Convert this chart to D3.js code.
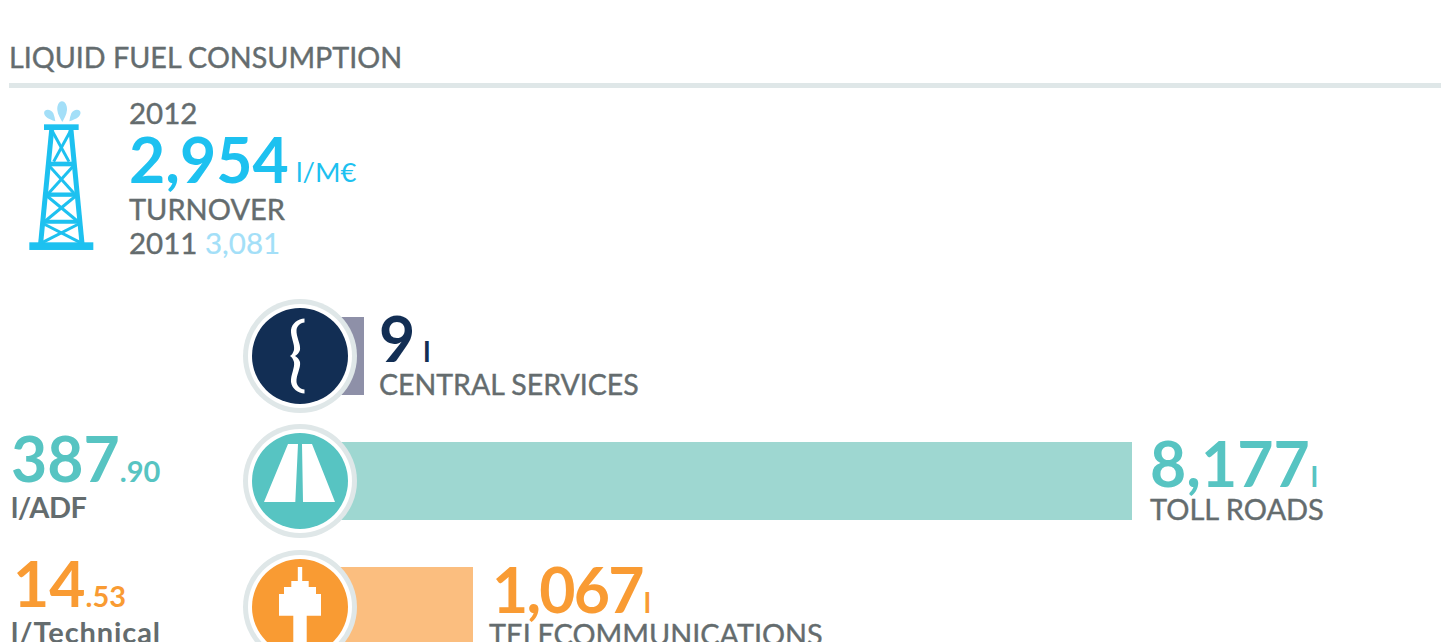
<!DOCTYPE html>
<html><head><meta charset="utf-8">
<script src="https://cdnjs.cloudflare.com/ajax/libs/d3/7.8.5/d3.min.js"></script>
<style>html,body{margin:0;padding:0;background:#fff;overflow:hidden}svg{display:block}text{font-family:Lato,sans-serif}</style>
</head><body><svg id="c" width="1441" height="642"></svg>
<script>
const title = "LIQUID FUEL CONSUMPTION";
const headline = {year:"2012", value:"2,954", unit:"l/M€", label:"TURNOVER", prevYear:"2011", prevValue:"3,081"};
const categories = ["CENTRAL SERVICES","TOLL ROADS","TELECOMMUNICATIONS"];
const litres = [9,8177,1067];
const units = ["l","l","l"];
const ratioWhole = [null,"387","14"];
const ratioDecimal = [null,".90",".53"];
const ratioUnit = [null,"l/ADF","l/Technical"];
const markColors = ["#122e54","#57c4c2","#f99b33"];
const barColors = ["#8e90a8","#9ed7d1","#fbbe7f"];
const GREY="#646c6e", RING="#dfe7e8", CYAN="#1dc1f0", PALE="#a3dff8";

const svg = d3.select("#c");
const x = d3.scaleLinear().domain([0,9,1067,8177]).range([300,364,473,1132]);
const y = d3.scalePoint().domain(categories).range([356,606]);
const fmt = d3.format(",");

function T(g,txt,px,py,size,fill,weight,sw){return g.append("text").attr("x",px).attr("y",py).attr("font-size",size).attr("fill",fill).attr("font-weight",weight||400).attr("stroke",sw?fill:"none").attr("stroke-width",sw||0).text(txt);}

T(svg,title,9,68,28.7,GREY,400,0.4);
svg.append("rect").attr("x",9).attr("y",83).attr("width",1432).attr("height",5).attr("fill",RING);

// derrick icon, drawn in 3x units
const d = svg.append("g").attr("transform","translate(0,30) scale(0.3333)");
d.append("rect").attr("x",88).attr("y",637).attr("width",192).attr("height",23).attr("fill",CYAN);
d.append("rect").attr("x",132).attr("y",283).attr("width",104).attr("height",17).attr("fill",CYAN);
const seg=[[155,300,122,640,15],[213,300,246,640,15],
 [148,402,220,402,14],[141,494,227,494,13],[132,575,236,575,12],
 [155,300,207,395,9],[213,300,161,395,9],
 [148,408,222,490,9],[220,408,146,490,9],
 [141,498,232,573,9],[227,498,136,573,9],
 [132,582,240,637,9],[236,582,128,637,9]];
d.selectAll("line.s").data(seg).join("line").attr("x1",a=>a[0]).attr("y1",a=>a[1]).attr("x2",a=>a[2]).attr("y2",a=>a[3]).attr("stroke-width",a=>a[4]).attr("stroke",CYAN);
d.append("path").attr("fill",PALE).attr("d","M186,214 C196,214 202,228 201,240 C200,254 192,266 187,276 C182,266 173,254 172,240 C171,228 176,214 186,214Z");
d.append("path").attr("fill",PALE).attr("d","M134,243 C142,236 154,240 160,250 C163,258 165,266 166,274 C156,270 144,266 138,260 C132,254 131,248 134,243Z");
d.append("path").attr("fill",PALE).attr("d","M240,243 C232,236 220,240 214,250 C211,258 209,266 208,274 C218,270 230,266 236,260 C242,254 243,248 240,243Z");

T(svg,headline.year,129,124,29.5,GREY,400,0.4);
T(svg,headline.value,129,183,62.5,CYAN,700);
T(svg,headline.unit,296,182,27.5,CYAN,400);
T(svg,headline.label,129,220,29,GREY,400,0.4);
T(svg,headline.prevYear,129,254,29.5,GREY,400,0.4);
T(svg,headline.prevValue,205,254,29.5,PALE,400,0.2);

const rows = svg.selectAll("g.row").data(categories).join("g").attr("class","row");
const ringY = (c,i)=>y(c)+(i===2?1:0);
rows.append("rect").attr("x",x(0)).attr("y",c=>y(c)-39).attr("height",78)
  .attr("width",(c,i)=>x(litres[i])-x(0)).attr("fill",(c,i)=>barColors[i]);
rows.append("circle").attr("cx",x(0)).attr("cy",ringY).attr("r",57).attr("fill",RING);
rows.append("circle").attr("cx",x(0)).attr("cy",ringY).attr("r",52).attr("fill","#fff");
rows.append("circle").attr("cx",x(0)).attr("cy",ringY).attr("r",48).attr("fill",(c,i)=>markColors[i]);

// icons, relative to circle centre
const ic = rows.append("g").attr("transform",(c,i)=>`translate(${x(0)},${ringY(c,i)})`);
ic.filter((c,i)=>i===0).append("path").attr("fill","#fff")
 .attr("d","M4.5,-37.5 C-2,-37 -8,-33 -9,-26 C-9.5,-19 -5,-12 -6,-6 C-7,-3 -8,-1 -10,0 C-8,1 -7,3 -6,6 C-5,12 -9.5,19 -9,26 C-8,33 -2,37 4.5,37.5 L4.5,33.5 C0,33 -3,30 -3.5,26 C-4,19 1,12 0,6 C-1,3 -3,1 -5,0 C-3,-1 -1,-3 0,-6 C1,-12 -4,-19 -3.5,-26 C-3,-30 0,-33 4.5,-33.5Z");
ic.filter((c,i)=>i===1).append("path").attr("fill","#fff").attr("d","M-12,-37 L-2,-37 L-4.7,21 L-36,21Z M2,-37 L12,-37 L35,21 L3,21Z");
ic.filter((c,i)=>i===2).append("path").attr("fill","#fff")
 .attr("d","M-2.2,-40 L2.2,-40 L2.2,-26 L8.7,-26 L8.7,-20 L16,-20 L16,-13 L21,-13 L21,8.7 L6.7,8.7 L6.7,50 L-6.7,50 L-6.7,8.7 L-21,8.7 L-21,-13 L-16,-13 L-16,-20 L-8.7,-20 L-8.7,-26 L-2.2,-26Z");

// value labels, placed off the bar ends
const lblX = (c,i)=> x(litres[i])+ [15,18,19][i];
const val = rows.append("text").attr("x",lblX).attr("y",(c,i)=>y(c)+[6,6,7][i]).attr("font-size",62.5).attr("font-weight",700).attr("fill",(c,i)=>markColors[i]);
val.append("tspan").attr("letter-spacing",(c,i)=>i===2?-1.8:0).text((c,i)=>fmt(litres[i]));
val.append("tspan").attr("font-size",29).attr("dx",(c,i)=>i===0?8:1).text((c,i)=>units[i]);
rows.append("text").attr("x",(c,i)=>x(litres[i])+(i===2?16:15)+(i===1?3:0)).attr("y",c=>y(c)+39)
  .attr("font-size",(c,i)=>[28.5,29,28.8][i]).attr("fill",GREY).attr("stroke",GREY).attr("stroke-width",0.4).text(c=>c);

// ratio column
const left = rows.filter((c,i)=>ratioWhole[i]!==null);
const rt = left.append("text").attr("x",c=>c==="TOLL ROADS"?11:13).attr("y",c=>y(c)+1).attr("font-size",62.5).attr("font-weight",700).attr("fill",(c)=>markColors[categories.indexOf(c)]);
rt.append("tspan").text(c=>ratioWhole[categories.indexOf(c)]);
rt.append("tspan").attr("font-size",29).text(c=>ratioDecimal[categories.indexOf(c)]);
left.append("text").attr("x",11).attr("y",c=>y(c)+37).attr("font-size",29).attr("font-weight",700).attr("fill",GREY)
  .attr("textLength",c=>c==="TOLL ROADS"?76:149).attr("lengthAdjust","spacing").text(c=>ratioUnit[categories.indexOf(c)]);
</script></body></html>
